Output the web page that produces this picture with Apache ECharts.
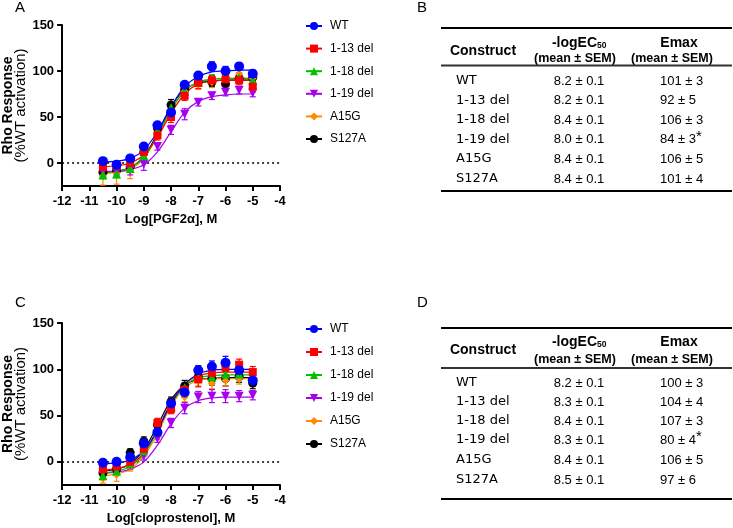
<!DOCTYPE html>
<html>
<head>
<meta charset="utf-8">
<script src="https://cdn.jsdelivr.net/npm/echarts@6/dist/echarts.min.js"></script>
<style>
  html, body { margin: 0; padding: 0; background: #fff; }
  #chart { width: 733px; height: 528px; }
</style>
</head>
<body>
<div id="chart"></div>
<script>
// log concentrations used in both experiments
const xs = [-10.5, -10, -9.5, -9, -8.5, -8, -7.5, -7, -6.5, -6, -5.5, -5];
const constructs = ['WT', '1-13 del', '1-18 del', '1-19 del', 'A15G', 'S127A'];
const colors = ['#0000ff', '#ff0000', '#00c000', '#a600ee', '#ff8c00', '#000000'];
const symbols = ['circle', 'rect', 'triangle', 'path://M0,0L10,0L5,9Z', 'diamond', 'circle'];
const symbolSizes = [10, 8, 9, 9, 8, 9];
const yTicks = [0, 50, 100, 150];

// panel A - PGF2a (one row per construct, same order as constructs)
const pgfMean = [
    [2, -2, 5, 18, 41, 55, 85, 95, 105, 100, 105, 97],
    [-4, -3, 0, 12, 30, 50, 73, 87, 90, 91, 90, 83],
    [-13, -12, -6, 8, 35, 60, 78, 88, 92, 95, 93, 90],
    [-10, -10, -8, -1, 18, 36, 53, 66, 73, 77, 79, 76],
    [-14, -11, -8, 10, 33, 58, 78, 85, 88, 97, 97, 92],
    [-10, -8, -4, 12, 38, 63, 80, 88, 88, 86, 92, 93]
];
const pgfSem = [
    [3, 3, 3, 3, 3, 4, 3, 3, 5, 5, 4, 4],
    [4, 4, 4, 4, 5, 6, 5, 6, 5, 5, 5, 6],
    [4, 4, 4, 4, 4, 5, 4, 4, 4, 5, 5, 4],
    [4, 4, 5, 7, 4, 5, 6, 4, 4, 4, 4, 4],
    [10, 12, 9, 4, 4, 5, 4, 5, 6, 5, 4, 4],
    [4, 4, 4, 4, 4, 6, 4, 4, 5, 5, 4, 4]
];
const pgfFit = [
    [1, 2, 5, 14, 34, 61, 83, 94, 99, 100, 101, 101],
    [-4, -3, 0, 9, 28, 54, 75, 86, 89, 90, 90, 90],
    [-11, -9, -5, 6, 30, 58, 78, 88, 91, 92, 92, 92],
    [-9, -9, -7, -2, 12, 34, 55, 67, 72, 74, 75, 75],
    [-12, -10, -7, 5, 29, 58, 79, 88, 91, 92, 92, 92],
    [-10, -9, -5, 7, 32, 61, 80, 87, 89, 90, 90, 90]
];

// panel C - cloprostenol
const cloMean = [
    [-1, 0, 5, 20, 32, 63, 75, 99, 103, 107, 99, 88],
    [-8, -5, 0, 14, 42, 57, 78, 89, 96, 102, 105, 97],
    [-15, -10, -2, 12, 32, 60, 80, 92, 92, 95, 95, 90],
    [-12, -10, -4, 6, 25, 42, 58, 70, 71, 71, 71, 72],
    [-18, -14, -5, 10, 28, 58, 70, 88, 85, 88, 90, 90],
    [-12, -8, 10, 22, 40, 65, 82, 92, 90, 90, 92, 85]
];
const cloSem = [
    [3, 3, 4, 4, 4, 5, 5, 5, 6, 7, 6, 6],
    [4, 4, 4, 4, 5, 5, 6, 8, 8, 8, 6, 6],
    [4, 4, 4, 4, 4, 5, 5, 5, 6, 7, 6, 6],
    [4, 4, 4, 4, 4, 5, 6, 6, 7, 7, 6, 5],
    [5, 7, 5, 4, 4, 5, 5, 6, 6, 6, 6, 6],
    [4, 4, 4, 5, 5, 5, 6, 6, 7, 8, 6, 6]
];
const cloFit = [
    [-2, -1, 2, 12, 34, 63, 84, 95, 99, 100, 100, 100],
    [-9, -7, -3, 10, 35, 64, 84, 93, 96, 97, 97, 97],
    [-12, -10, -5, 8, 33, 62, 82, 91, 93, 94, 94, 94],
    [-12, -11, -8, 0, 18, 41, 58, 66, 69, 70, 70, 70],
    [-15, -13, -8, 6, 30, 60, 80, 88, 90, 90, 90, 90],
    [-10, -8, -2, 13, 39, 67, 83, 89, 90, 91, 91, 91]
];

// tables B and D
const pgfLogEC = ['8.2 ± 0.1', '8.2 ± 0.1', '8.4 ± 0.1', '8.0 ± 0.1', '8.4 ± 0.1', '8.4 ± 0.1'];
const pgfEmax = ['101 ± 3', '92 ± 5', '106 ± 3', '84 ± 3', '106 ± 5', '101 ± 4'];
const cloLogEC = ['8.2 ± 0.1', '8.3 ± 0.1', '8.4 ± 0.1', '8.3 ± 0.1', '8.4 ± 0.1', '8.5 ± 0.1'];
const cloEmax = ['100 ± 3', '104 ± 4', '107 ± 3', '80 ± 4', '106 ± 5', '97 ± 6'];
const starred = [false, false, false, true, false, false];

const FONT = '"Liberation Sans", Arial, sans-serif';
const chart = echarts.init(document.getElementById('chart'));

function renderErrorBar(params, api) {
    const x = api.value(0);
    const lo = api.coord([x, api.value(1)]);
    const hi = api.coord([x, api.value(2)]);
    const style = { stroke: api.visual('color'), lineWidth: 1.2 };
    const w = 3;
    return {
        type: 'group',
        children: [
            { type: 'line', shape: { x1: lo[0], y1: lo[1], x2: hi[0], y2: hi[1] }, style },
            { type: 'line', shape: { x1: lo[0] - w, y1: lo[1], x2: lo[0] + w, y2: lo[1] }, style },
            { type: 'line', shape: { x1: hi[0] - w, y1: hi[1], x2: hi[0] + w, y2: hi[1] }, style }
        ]
    };
}

function panelSeries(axis, means, sems, fits) {
    const out = [];
    // curves first, so the legend uses their line + symbol icon
    for (let i = constructs.length - 1; i >= 0; i--) {
        out.push({
            name: constructs[i], type: 'line', xAxisIndex: axis, yAxisIndex: axis,
            data: xs.map((x, j) => [x, fits[i][j]]),
            smooth: 0.35, showSymbol: false, symbol: symbols[i], silent: true,
            color: colors[i], lineStyle: { width: 1.2, color: colors[i] }, z: 2
        });
    }
    for (let i = constructs.length - 1; i >= 0; i--) {
        out.push({
            name: constructs[i], type: 'custom', xAxisIndex: axis, yAxisIndex: axis,
            renderItem: renderErrorBar, clip: true, color: colors[i], z: 3,
            encode: { x: 0, y: [1, 2] },
            data: xs.map((x, j) => [x, means[i][j] - sems[i][j], means[i][j] + sems[i][j]])
        });
    }
    for (let i = constructs.length - 1; i >= 0; i--) {
        const s = {
            name: constructs[i], type: 'scatter', xAxisIndex: axis, yAxisIndex: axis,
            data: xs.map((x, j) => [x, means[i][j]]),
            symbol: symbols[i], symbolSize: symbolSizes[i],
            itemStyle: { color: colors[i], opacity: 1 }, z: 4
        };
        if (i === 0) {
            s.markLine = {
                silent: true, symbol: 'none', label: { show: false },
                lineStyle: { color: '#000', type: [2, 3], width: 1.5 },
                data: [{ yAxis: 0 }], z: 1
            };
        }
        out.push(s);
    }
    return out;
}

function xAxisFor(idx, title) {
    return {
        gridIndex: idx, type: 'value', min: -12, max: -4, interval: 1,
        axisLine: { show: true, onZero: false, lineStyle: { color: '#000', width: 2 } },
        axisTick: { show: true, length: 5, lineStyle: { color: '#000', width: 2 } },
        axisLabel: { color: '#000', fontWeight: 'bold', fontSize: 13, fontFamily: FONT, margin: 9 },
        splitLine: { show: false },
        name: title, nameLocation: 'middle', nameGap: 27,
        nameTextStyle: { color: '#000', fontWeight: 'bold', fontSize: 13, fontFamily: FONT }
    };
}

function yAxisFor(idx) {
    return {
        gridIndex: idx, type: 'value', min: -25, max: 150,
        axisLine: { show: true, onZero: false, lineStyle: { color: '#000', width: 2 } },
        axisTick: { show: true, length: 5, customValues: yTicks, lineStyle: { color: '#000', width: 2 } },
        axisLabel: { color: '#000', fontWeight: 'bold', fontSize: 13, fontFamily: FONT, margin: 8, customValues: yTicks },
        splitLine: { show: false },
        name: '{a|Rho Response}\n{b|(%WT activation)}',
        nameLocation: 'middle', nameGap: 31,
        nameTextStyle: {
            color: '#000', fontFamily: FONT, lineHeight: 13,
            rich: {
                a: { fontWeight: 'bold', fontSize: 14, fontFamily: FONT, color: '#000', lineHeight: 13 },
                b: { fontSize: 15, fontFamily: FONT, color: '#000', lineHeight: 13 }
            }
        }
    };
}

function legendFor(top, gap) {
    return {
        orient: 'vertical', left: 305, top: top, padding: 0,
        itemWidth: 16, itemHeight: 10, itemGap: gap,
        data: constructs,
        textStyle: { color: '#000', fontSize: 12, fontFamily: FONT, padding: [0, 0, 0, 3] }
    };
}

function txt(x, y, text, opts) {
    return {
        type: 'text', x: x, y: y, silent: true,
        style: Object.assign({
            text: text, fill: '#000', fontSize: 13, fontFamily: FONT,
            align: 'left', verticalAlign: 'middle'
        }, opts || {})
    };
}

function hline(y, w, color) {
    return {
        type: 'line', silent: true,
        shape: { x1: 441, y1: y, x2: 732, y2: y },
        style: { stroke: color || '#000', lineWidth: w }
    };
}

function table(letter, L, logEC, emax) {
    const els = [];
    els.push(txt(417, L.letter, letter, { fontSize: 15 }));
    els.push(hline(L.top, 2));
    els.push(txt(483, L.con, 'Construct', { fontSize: 14, fontWeight: 'bold', align: 'center' }));
    els.push(txt(597, L.h1, '-logEC', { fontSize: 14, fontWeight: 'bold', align: 'right' }));
    els.push(txt(597, L.h1 + 3, '50', { fontSize: 8.5, fontWeight: 'bold' }));
    els.push(txt(575, L.h2, '(mean ± SEM)', { fontSize: 12.5, fontWeight: 'bold', align: 'center' }));
    els.push(txt(679, L.h1, 'Emax', { fontSize: 14, fontWeight: 'bold', align: 'center' }));
    els.push(txt(672, L.h2, '(mean ± SEM)', { fontSize: 12.5, fontWeight: 'bold', align: 'center' }));
    els.push(hline(L.rule, 1.8, '#333'));
    constructs.forEach((c, i) => {
        const y = L.rows[i];
        els.push(txt(456, y, c, { fontFamily: '"DejaVu Sans", Verdana, sans-serif' }));
        els.push(txt(579, y, logEC[i], { align: 'center' }));
        els.push(txt(660, y, emax[i]));
        if (starred[i]) {
            els.push(txt(696, y - 3, '*', { fontSize: 15 }));
        }
    });
    els.push(hline(L.bottom, 2));
    return els;
}

const layoutB = { letter: 8, top: 28, h1: 43, h2: 59, con: 51, rule: 65.5,
    rows: [81, 100.5, 120, 139.5, 159, 179], bottom: 191 };
const layoutD = { letter: 303, top: 328, h1: 342, h2: 360, con: 350, rule: 368,
    rows: [383, 402, 421, 440, 460, 480], bottom: 499 };

const option = {
    backgroundColor: '#fff',
    animation: false,
    grid: [
        { left: 58, top: 25, width: 222, height: 161 },
        { left: 59, top: 323, width: 221, height: 162 }
    ],
    xAxis: [xAxisFor(0, 'Log[PGF2α], M'), xAxisFor(1, 'Log[cloprostenol], M')],
    yAxis: [yAxisFor(0), yAxisFor(1)],
    legend: [legendFor(20, 10.6), legendFor(323, 11)],
    series: panelSeries(0, pgfMean, pgfSem, pgfFit).concat(panelSeries(1, cloMean, cloSem, cloFit)),
    graphic: [
        txt(15, 8, 'A', { fontSize: 15 }),
        txt(15, 303, 'C', { fontSize: 15 })
    ].concat(table('B', layoutB, pgfLogEC, pgfEmax), table('D', layoutD, cloLogEC, cloEmax))
};

chart.setOption(option);
window.addEventListener('resize', () => chart.resize());
</script>
</body>
</html>
